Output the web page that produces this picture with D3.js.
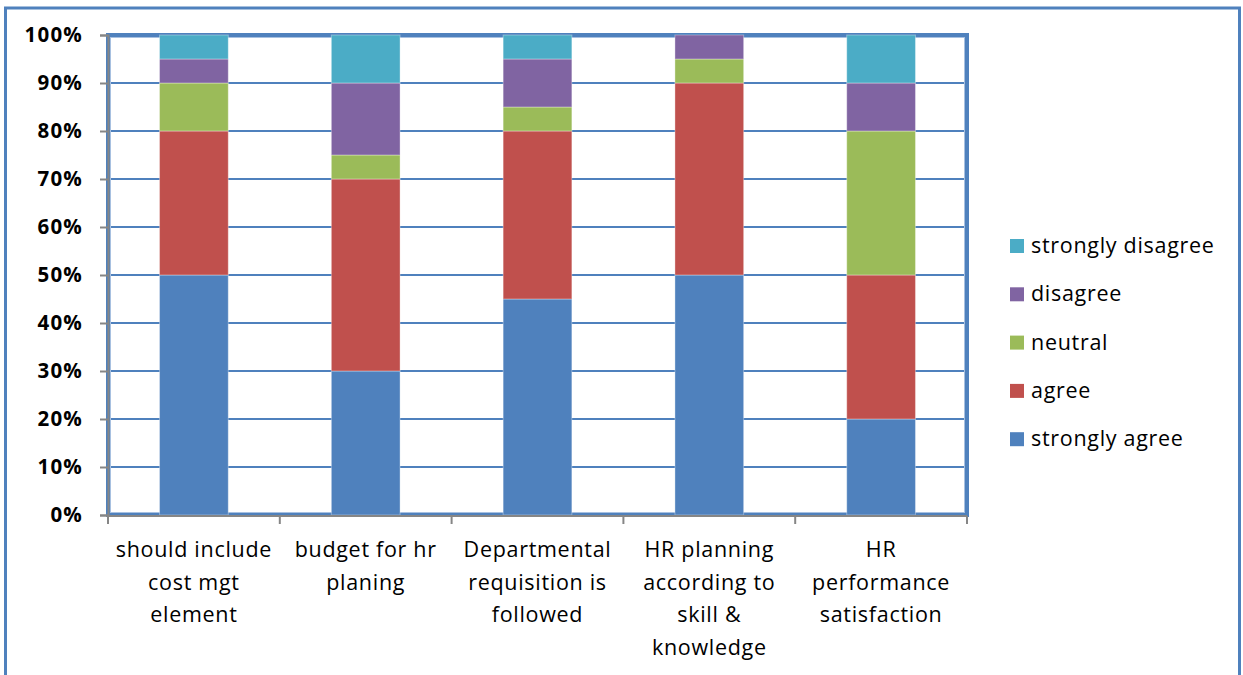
<!DOCTYPE html>
<html>
<head>
<meta charset="utf-8">
<script src="https://cdn.jsdelivr.net/npm/d3@7"></script>
<style>
  html, body { margin: 0; padding: 0; background: #fff; }
  svg { display: block; }
</style>
</head>
<body>
<svg id="chart" width="1243" height="675"></svg>
<script>
// Survey responses per statement (percent of respondents)
const categories = [
  ["should include", "cost mgt", "element"],
  ["budget for hr", "planing"],
  ["Departmental", "requisition is", "followed"],
  ["HR planning", "according to", "skill &", "knowledge"],
  ["HR", "performance", "satisfaction"]
];
const seriesNames = ["strongly agree", "agree", "neutral", "disagree", "strongly disagree"];
const stronglyAgree    = [50, 30, 45, 50, 20];
const agree            = [30, 40, 35, 40, 30];
const neutral          = [10, 5, 5, 5, 30];
const disagree         = [5, 15, 10, 5, 10];
const stronglyDisagree = [5, 10, 5, 0, 10];
const yTicks = [0, 10, 20, 30, 40, 50, 60, 70, 80, 90, 100];
const colors = ["#4F81BD", "#C0504D", "#9BBB59", "#8064A2", "#4BACC6"];

const seriesValues = [stronglyAgree, agree, neutral, disagree, stronglyDisagree];
const rows = categories.map((c, i) => {
  const r = { idx: i };
  seriesNames.forEach((s, k) => { r[s] = seriesValues[k][i]; });
  return r;
});
const stacked = d3.stack().keys(seriesNames)(rows);

const svg = d3.select("#chart");
const font = "'Open Sans', Lato, sans-serif";

// outer frame
svg.append("rect")
  .attr("x", 5.5).attr("y", 8).attr("width", 1234).attr("height", 680)
  .attr("fill", "none").attr("stroke", "#4F81BD").attr("stroke-width", 3);

const plot = { left: 108, top: 35, right: 967, bottom: 515 };

const x = d3.scaleBand()
  .domain(d3.range(categories.length))
  .range([plot.left, plot.right])
  .paddingInner(0.6).paddingOuter(0.3);
const xBand = d3.scaleBand()
  .domain(d3.range(categories.length))
  .range([plot.left, plot.right]);
const y = d3.scaleLinear().domain([0, 100]).range([plot.bottom, plot.top]);

// gridlines
svg.append("g")
  .selectAll("line")
  .data(yTicks.filter(t => t > 0 && t < 100))
  .join("line")
  .attr("x1", plot.left).attr("x2", plot.right)
  .attr("y1", d => y(d)).attr("y2", d => y(d))
  .attr("stroke", "#4F81BD").attr("stroke-width", 2);

// plot-area frame
svg.append("rect")
  .attr("x", plot.left).attr("y", plot.top)
  .attr("width", plot.right - plot.left).attr("height", plot.bottom - plot.top)
  .attr("fill", "none").attr("stroke", "#4F81BD").attr("stroke-width", 4);
svg.append("rect")
  .attr("x", plot.left + 2.5).attr("y", plot.top + 2.5)
  .attr("width", plot.right - plot.left - 5).attr("height", plot.bottom - plot.top - 5)
  .attr("fill", "none").attr("stroke", "#A7C0E0").attr("stroke-width", 1);

// stacked bars
svg.append("g")
  .selectAll("g")
  .data(stacked)
  .join("g")
  .attr("fill", (d, i) => colors[i])
  .selectAll("rect")
  .data(d => d)
  .join("rect")
  .attr("x", d => x(d.data.idx))
  .attr("width", x.bandwidth())
  .attr("y", d => y(d[1]))
  .attr("height", d => Math.max(0, y(d[0]) - y(d[1])))
  .attr("stroke", "rgba(255,255,255,0.35)").attr("stroke-width", 1);

// y axis
const yAxis = svg.append("g")
  .attr("transform", `translate(${plot.left},0)`)
  .call(d3.axisLeft(y).tickValues(yTicks).tickSize(8).tickPadding(17).tickFormat(d => d + "%"));
yAxis.select(".domain").attr("stroke", "#868686").attr("stroke-width", 2);
yAxis.selectAll(".tick line").attr("stroke", "#868686").attr("stroke-width", 2);
yAxis.selectAll(".tick text")
  .attr("font-family", font)
  .attr("font-weight", "bold").attr("font-size", 20.5)
  .attr("letter-spacing", 1.2).attr("fill", "#000");

// x axis
const xAxis = svg.append("g")
  .attr("transform", `translate(0,${plot.bottom + 1})`);
xAxis.append("line")
  .attr("x1", plot.left).attr("x2", plot.right)
  .attr("stroke", "#868686").attr("stroke-width", 2);
xAxis.selectAll(".tk")
  .data(d3.range(categories.length + 1))
  .join("line")
  .attr("x1", i => i < categories.length ? xBand(i) : plot.right)
  .attr("x2", i => i < categories.length ? xBand(i) : plot.right)
  .attr("y1", 0).attr("y2", 8)
  .attr("stroke", "#868686").attr("stroke-width", 2);

const labels = svg.append("g");
categories.forEach((lines, i) => {
  const cx = xBand(i) + xBand.bandwidth() / 2;
  const t = labels.append("text")
    .attr("text-anchor", "middle")
    .attr("font-family", font).attr("font-size", 21.5)
    .attr("letter-spacing", 0.7).attr("fill", "#000");
  lines.forEach((ln, j) => {
    t.append("tspan").attr("x", cx).attr("y", 557 + j * 32.6).text(ln);
  });
});

// legend (top to bottom: reverse stack order)
const legendItems = seriesNames.map((s, i) => ({ name: s, color: colors[i] })).reverse();
const legend = svg.append("g").attr("transform", "translate(1010,0)");
legend.selectAll("rect")
  .data(legendItems)
  .join("rect")
  .attr("x", 0).attr("y", (d, i) => 239 + i * 48.3)
  .attr("width", 14).attr("height", 14)
  .attr("fill", d => d.color);
legend.selectAll("text")
  .data(legendItems)
  .join("text")
  .attr("x", 21).attr("y", (d, i) => 253 + i * 48.3)
  .attr("font-family", font).attr("font-size", 21.5)
  .attr("letter-spacing", 0.7).attr("fill", "#000")
  .text(d => d.name);
</script>
</body>
</html>
